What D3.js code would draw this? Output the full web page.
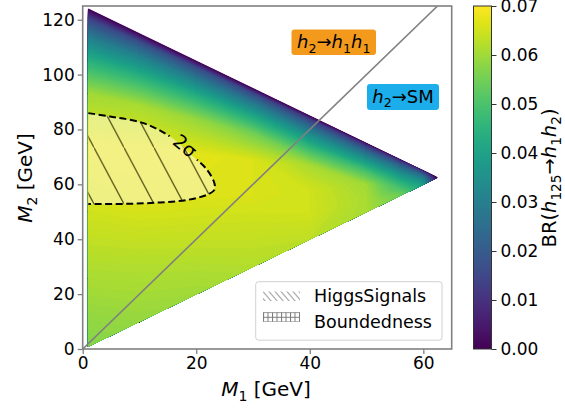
<!DOCTYPE html>
<html><head><meta charset="utf-8">
<script src="https://cdn.jsdelivr.net/npm/d3@7"></script>
<style>body{margin:0;background:#fff} svg{display:block} text{font-family:"DejaVu Sans",sans-serif;fill:#000}</style>
</head><body><svg id="c" width="565" height="410"></svg>
<script>
// ---- data ----
// grid: columns at M1 values, rows at fraction u of the allowed M2 range [M1, 125-M1]
const m1Grid = [1, 10, 20, 30, 40, 50, 56, 60, 62.5];
const uGrid = [0, 0.2, 0.4, 0.6, 0.75, 0.85, 0.92, 0.97, 1];
const brM1_1   = [0.057, 0.061, 0.065, 0.067, 0.060, 0.044, 0.029, 0.015, 0];
const brM1_10  = [0.059, 0.062, 0.066, 0.067, 0.061, 0.045, 0.031, 0.017, 0];
const brM1_20  = [0.060, 0.063, 0.066, 0.067, 0.059, 0.044, 0.030, 0.017, 0];
const brM1_30  = [0.062, 0.064, 0.066, 0.066, 0.055, 0.041, 0.028, 0.016, 0];
const brM1_40  = [0.063, 0.065, 0.065, 0.061, 0.046, 0.034, 0.023, 0.013, 0];
const brM1_50  = [0.061, 0.061, 0.060, 0.049, 0.037, 0.027, 0.018, 0.010, 0];
const brM1_56  = [0.055, 0.050, 0.044, 0.036, 0.028, 0.021, 0.015, 0.009, 0];
const brM1_60  = [0.040, 0.036, 0.032, 0.026, 0.021, 0.016, 0.012, 0.007, 0];
const brM1_625 = [0, 0, 0, 0, 0, 0, 0, 0, 0];
const brColumns = [brM1_1, brM1_10, brM1_20, brM1_30, brM1_40, brM1_50, brM1_56, brM1_60, brM1_625];

// 2 sigma HiggsSignals contour
const sigM1 = [0.99, 4.82, 10.69, 15.4, 19.5, 21.9, 23.2, 23.2, 21.9, 18.35, 13.6, 7.76, 0.99];
const sigM2 = [85.96, 84.72, 82.31, 77.4, 70.1, 65.3, 60.4, 58.0, 56.2, 54.3, 53.4, 52.9, 52.8];
// kinematic line M2 = 2 M1
const diagM1 = [0, 62.5];
const diagM2 = [0, 125];

const xTicks = [0, 20, 40, 60];
const yTicks = [0, 20, 40, 60, 80, 100, 120];
const cbTicks = [0, 0.01, 0.02, 0.03, 0.04, 0.05, 0.06, 0.07];
const legendLabels = ["HiggsSignals", "Boundedness"];

// ---- layout ----
const svg = d3.select("#c");
const L = 82.7, R = 451.7, T = 6, B = 349;
const x = d3.scaleLinear().domain([0, 65]).range([L, R]);
const y = d3.scaleLinear().domain([0, 125]).range([B, T]);
const cb = d3.scaleLinear().domain([0, 0.07]).range([B, T]);
const color = d3.scaleSequential(d3.interpolateViridis).domain([0, 0.07]);
const gray = "#808080";

const defs = svg.append("defs");
defs.append("clipPath").attr("id", "plotclip").append("rect")
  .attr("x", L).attr("y", T).attr("width", R - L).attr("height", B - T);

// ---- heat map via contours ----
const nx = m1Grid.length, ny = uGrid.length;
const values = new Array(nx * ny);
for (let j = 0; j < ny; j++) for (let i = 0; i < nx; i++) values[j * nx + i] = brColumns[i][j];
const step = 0.0005;
const thresholds = d3.range(0, 0.07 + 1e-9, step);
const contours = d3.contours().size([nx, ny]).thresholds(thresholds)(values);
function interpArr(arr, t) {
  t = Math.max(0, Math.min(arr.length - 1, t));
  const k = Math.floor(t);
  if (k >= arr.length - 1) return arr[arr.length - 1];
  return arr[k] + (arr[k + 1] - arr[k]) * (t - k);
}
function toPix([cx, cy]) {
  const m1 = interpArr(m1Grid, cx - 0.5);
  const u = interpArr(uGrid, cy - 0.5);
  const m2 = m1 + u * (125 - 2 * m1);
  return [x(m1), y(m2)];
}
const path = d3.geoPath();
const heat = svg.append("g").attr("clip-path", "url(#plotclip)");
heat.selectAll("path").data(contours).join("path")
  .attr("d", c => path({type: "MultiPolygon",
     coordinates: c.coordinates.map(p => p.map(r => r.map(toPix)))}))
  .attr("fill", c => color(c.value + step / 2))
  .attr("stroke", c => color(c.value + step / 2)).attr("stroke-width", 0.3);

// ---- 2 sigma region ----
const sigPts = sigM1.map((m, i) => [x(m), y(sigM2[i])]);
const open = d3.line().curve(d3.curveCatmullRom.alpha(0.5));
const regionD = open(sigPts) + "Z";
const hp = defs.append("pattern").attr("id", "hatchSig").attr("patternUnits", "userSpaceOnUse")
  .attr("x", 124).attr("y", 204).attr("width", 30).attr("height", 56.4);
hp.append("line").attr("x1", -30).attr("y1", -56.4).attr("x2", 60).attr("y2", 112.8)
  .attr("stroke", "#4d4b12").attr("stroke-width", 1.3);
svg.append("path").attr("d", regionD).attr("fill", "#fffacc").attr("fill-opacity", 0.6);
svg.append("path").attr("d", regionD).attr("fill", "url(#hatchSig)").attr("opacity", 0.9);

// label mask
const labX = 185, labY = 146, labRot = 40;
const mask = defs.append("mask").attr("id", "labmask").attr("maskUnits", "userSpaceOnUse")
  .attr("x", 0).attr("y", 0).attr("width", 565).attr("height", 410);
mask.append("rect").attr("x", 0).attr("y", 0).attr("width", 565).attr("height", 410).attr("fill", "#fff");
mask.append("rect").attr("x", -18).attr("y", -11).attr("width", 36).attr("height", 22).attr("fill", "#000")
  .attr("transform", `translate(${labX},${labY}) rotate(${labRot})`);
svg.append("path").attr("d", open(sigPts)).attr("fill", "none").attr("stroke", "#000")
  .attr("stroke-width", 2).attr("stroke-dasharray", "7,3.5").attr("mask", "url(#labmask)");
svg.append("text").attr("transform", `translate(${labX},${labY}) rotate(${labRot})`)
  .attr("text-anchor", "middle").attr("dy", "0.35em").attr("font-size", 19).text("2σ");

// ---- diagonal line ----
svg.append("path").attr("clip-path", "url(#plotclip)")
  .attr("d", d3.line().x((d, i) => x(d)).y((d, i) => y(diagM2[i]))(diagM1))
  .attr("fill", "none").attr("stroke", gray).attr("stroke-width", 1.6);

// ---- axes ----
const fs = 17;
const xa = svg.append("g").attr("transform", `translate(0,${B})`)
  .call(d3.axisBottom(x).tickValues(xTicks).tickSize(5).tickPadding(3).tickFormat(d3.format("d")));
const ya = svg.append("g").attr("transform", `translate(${L},0)`)
  .call(d3.axisLeft(y).tickValues(yTicks).tickSize(5).tickPadding(3).tickFormat(d3.format("d")));
[xa, ya].forEach(a => {
  a.select(".domain").remove();
  a.selectAll("line").attr("stroke", gray).attr("stroke-width", 1.3);
  a.selectAll("text").attr("font-size", fs).attr("font-family", "DejaVu Sans").attr("fill", "#000");
});
svg.append("rect").attr("x", L).attr("y", T).attr("width", R - L).attr("height", B - T)
  .attr("fill", "none").attr("stroke", gray).attr("stroke-width", 1.6);

function rich(sel, parts, size) {
  let shift = 0;
  parts.forEach(p => {
    const ts = sel.append("tspan").text(p.t);
    if (p.i) ts.attr("font-style", "italic");
    const target = p.sub ? size * 0.24 : 0;
    ts.attr("dy", target - shift);
    shift = target;
    if (p.sub) ts.attr("font-size", size * 0.7);
  });
}
const lf = 20;
rich(svg.append("text").attr("x", 266).attr("y", 396).attr("text-anchor", "middle").attr("font-size", lf),
  [{t: "M", i: true}, {t: "1", sub: true}, {t: " [GeV]"}], lf);
rich(svg.append("text").attr("transform", "translate(32,178) rotate(-90)").attr("text-anchor", "middle").attr("font-size", lf),
  [{t: "M", i: true}, {t: "2", sub: true}, {t: " [GeV]"}], lf);

// ---- region labels ----
function boxLabel(x0, y0, w, h, fill, parts) {
  svg.append("rect").attr("x", x0).attr("y", y0).attr("width", w).attr("height", h)
    .attr("rx", 3).attr("fill", fill);
  rich(svg.append("text").attr("x", x0 + w / 2).attr("y", y0 + h / 2 + 6).attr("text-anchor", "middle")
    .attr("font-size", 18), parts, 18);
}
boxLabel(291.5, 29.5, 84.5, 25.5, "#f39a1d",
  [{t: "h", i: true}, {t: "2", sub: true}, {t: "→"}, {t: "h", i: true}, {t: "1", sub: true}, {t: "h", i: true}, {t: "1", sub: true}]);
boxLabel(367, 84, 72, 26, "#1caeea",
  [{t: "h", i: true}, {t: "2", sub: true}, {t: "→SM"}]);

// ---- legend ----
const lp1 = defs.append("pattern").attr("id", "legDiag").attr("patternUnits", "userSpaceOnUse")
  .attr("width", 6).attr("height", 7).attr("x", 263).attr("y", 291.5);
lp1.append("line").attr("x1", -6).attr("y1", -7).attr("x2", 12).attr("y2", 14)
  .attr("stroke", "#777").attr("stroke-width", 1);
const lp2 = defs.append("pattern").attr("id", "legGrid").attr("patternUnits", "userSpaceOnUse")
  .attr("width", 4.5).attr("height", 4.6).attr("x", 263).attr("y", 312.2);
lp2.append("path").attr("d", "M0.5,0V4.6M0,0.5H4.5").attr("stroke", "#777").attr("stroke-width", 1).attr("fill", "none");
svg.append("rect").attr("x", 255.7).attr("y", 281.7).attr("width", 186.3).attr("height", 58.5)
  .attr("rx", 3).attr("fill", "#fff").attr("fill-opacity", 0.85).attr("stroke", "#d0d0d0");
svg.append("rect").attr("x", 263).attr("y", 291.5).attr("width", 37).attr("height", 9.5).attr("fill", "url(#legDiag)");
svg.append("rect").attr("x", 263).attr("y", 312.2).attr("width", 37).attr("height", 9.6).attr("fill", "url(#legGrid)");
legendLabels.forEach((t, i) => {
  svg.append("text").attr("x", 314).attr("y", 302.3 + i * 25.7).attr("font-size", 17.5).text(t);
});

// ---- colorbar ----
const grad = defs.append("linearGradient").attr("id", "cbgrad").attr("x1", 0).attr("y1", 1).attr("x2", 0).attr("y2", 0);
d3.range(0, 1.0001, 0.05).forEach(o => grad.append("stop").attr("offset", o).attr("stop-color", color(o * 0.07)));
const cbx = 473.5, cbw = 18;
svg.append("rect").attr("x", cbx).attr("y", T).attr("width", cbw).attr("height", B - T)
  .attr("fill", "url(#cbgrad)").attr("stroke", "#333").attr("stroke-width", 1);
const ca = svg.append("g").attr("transform", `translate(${cbx + cbw},0)`)
  .call(d3.axisRight(cb).tickValues(cbTicks).tickSize(5).tickPadding(4).tickFormat(d3.format(".2f")));
ca.select(".domain").remove();
ca.selectAll("line").attr("stroke", "#333");
ca.selectAll("text").attr("font-size", fs).attr("font-family", "DejaVu Sans").attr("fill", "#000");
rich(svg.append("text").attr("transform", "translate(556,178) rotate(-90)").attr("text-anchor", "middle").attr("font-size", 19.5),
  [{t: "BR("}, {t: "h", i: true}, {t: "125", sub: true}, {t: "→"}, {t: "h", i: true}, {t: "1", sub: true},
   {t: "h", i: true}, {t: "2", sub: true}, {t: ")"}], 19.5);
</script></body></html>
